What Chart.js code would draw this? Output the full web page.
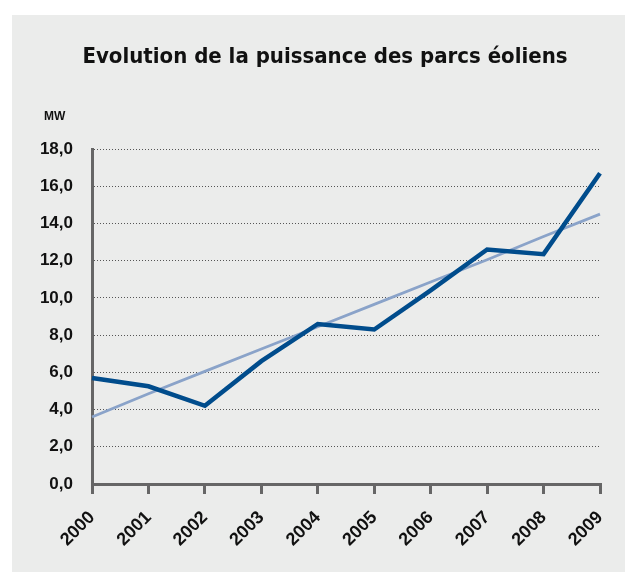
<!DOCTYPE html>
<html>
<head>
<meta charset="utf-8">
<script src="https://cdn.jsdelivr.net/npm/chart.js@4.4.1/dist/chart.umd.min.js"></script>
<style>
  html, body { margin: 0; padding: 0; background: #ffffff; overflow: hidden; }
  #panel { position: absolute; left: 12px; top: 15px; width: 613px; height: 557px; background: #ebeceb; }
  #windChart { position: absolute; left: 0; top: 0; }
</style>
</head>
<body>
<div id="panel"></div>
<canvas id="windChart" width="625" height="572"></canvas>
<script>
var years = ['2000', '2001', '2002', '2003', '2004', '2005', '2006', '2007', '2008', '2009'];
var puissance = [5.7, 5.25, 4.2, 6.6, 8.6, 8.3, 10.4, 12.6, 12.35, 16.7];
var tendance = [3.6, 4.85, 6.05, 7.25, 8.45, 9.65, 10.85, 12.05, 13.3, 14.5];
var yTicks = [0, 2, 4, 6, 8, 10, 12, 14, 16, 18];

var labelFont = "'Liberation Sans', 'Noto Sans', sans-serif";

// petit libellé "MW" au-dessus de l'axe
var unitLabel = {
    id: 'unitLabel',
    afterDraw: function (chart) {
        var c = chart.ctx;
        c.save();
        c.font = 'bold 12px ' + labelFont;
        c.fillStyle = '#111';
        c.textAlign = 'left';
        c.textBaseline = 'middle';
        c.fillText('MW', 44, 117);
        c.restore();
    }
};

var ctx = document.getElementById('windChart').getContext('2d');
var windChart = new Chart(ctx, {
    type: 'line',
    data: {
        labels: years,
        datasets: [{
            label: 'Puissance',
            data: puissance,
            borderColor: '#004c8c',
            borderWidth: 4.5,
            pointRadius: 0,
            tension: 0,
            borderJoinStyle: 'miter',
            order: 0
        }, {
            label: 'Tendance',
            data: tendance,
            borderColor: '#8aa3c9',
            borderWidth: 2.8,
            pointRadius: 0,
            tension: 0,
            order: 1
        }]
    },
    options: {
        responsive: false,
        animation: false,
        layout: { padding: { left: 37, right: 12, top: 0, bottom: 0 } },
        plugins: {
            legend: { display: false },
            tooltip: { enabled: false },
            title: {
                display: true,
                text: 'Evolution de la puissance des parcs éoliens',
                color: '#111',
                font: { family: "'Liberation Sans Narrow', 'DejaVu Sans Condensed', sans-serif", size: 22, weight: 'bold', lineHeight: 1.2 },
                padding: { top: 44.5, bottom: 78.1 }
            }
        },
        scales: {
            x: {
                offset: false,
                grid: { drawOnChartArea: false, drawTicks: true, tickLength: 10, color: '#666', lineWidth: 3 },
                border: { display: true, color: '#666', width: 3 },
                ticks: {
                    color: '#111',
                    font: { family: labelFont, size: 18, weight: 'bold' },
                    minRotation: 45,
                    maxRotation: 45,
                    padding: 13
                },
                afterFit: function (s) {
                    s.height = 88;
                    s.paddingLeft = 0;
                    s.paddingRight = 0;
                }
            },
            y: {
                min: 0,
                max: 18,
                afterBuildTicks: function (s) {
                    s.ticks = yTicks.map(function (v) { return { value: v }; });
                },
                grid: { color: '#555', lineWidth: 1, drawTicks: false },
                border: { display: true, color: '#666', width: 3, dash: [1, 2] },
                ticks: {
                    color: '#111',
                    padding: 19,
                    font: { family: labelFont, size: 17, weight: 'bold' },
                    callback: function (v) { return v.toFixed(1).replace('.', ','); }
                },
                afterFit: function (s) { s.width = 55; }
            },
            // axe vide à droite, juste pour la marge
            yRight: {
                position: 'right',
                display: true,
                grid: { display: false },
                border: { display: false },
                ticks: { display: false },
                afterFit: function (s) { s.width = 13; }
            }
        }
    },
    plugins: [unitLabel]
});
</script>
</body>
</html>
